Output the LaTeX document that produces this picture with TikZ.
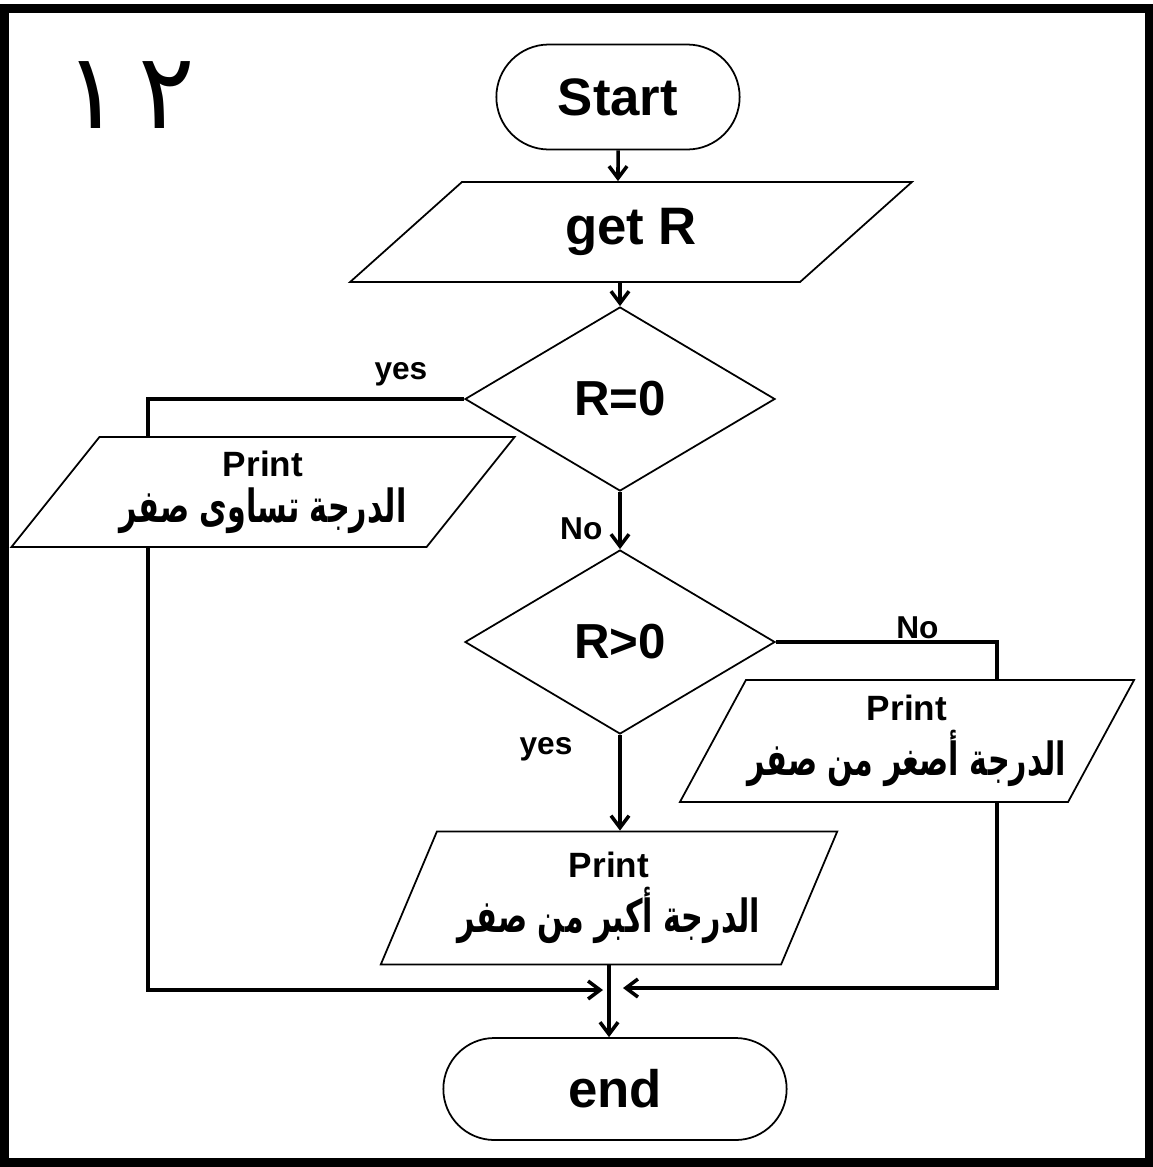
\documentclass[tikz,border=0pt]{standalone}
\usepackage{fontspec}
\setmainfont{Liberation Sans}
\newfontfamily\arabicfont[Script=Arabic, FakeStretch=0.66]{DejaVu Sans}
\newfontfamily\digitfont[Script=Arabic]{DejaVu Sans}
\TeXXeTstate=1
\usepackage{tikz}
\usetikzlibrary{calc,shapes,arrows.meta}

\newcommand{\artext}[1]{{\arabicfont\bfseries\fontsize{26}{28}\selectfont\beginR #1\endR}}

\begin{document}
\begin{tikzpicture}[x=0.2mm, y=-0.2mm,
    term/.style={rounded rectangle, draw, line width=1pt, minimum width=51mm, minimum height=21mm, font=\bfseries\fontsize{30}{36}\selectfont},
    io/.style={trapezium, trapezium stretches=true, draw, line width=1pt, align=center, inner xsep=1pt, inner ysep=1pt, font=\bfseries\fontsize{20}{22}\selectfont},
    decision/.style={diamond, draw, line width=1pt, aspect=1.7, minimum width=62mm, minimum height=36.8mm, font=\bfseries\fontsize{28}{32}\selectfont},
    line/.style={draw, line width=2pt},
    arrow/.style={line, -{Straight Barb[length=2.4mm,width=3.6mm]}},
    lbl/.style={font=\bfseries\fontsize{18}{20}\selectfont}]
    \useasboundingbox (0,0) rectangle (1153,1167);
    % Frame and number
    \draw [line width=1.8mm] (4,8) rectangle (1149,1162);
    \node [font=\digitfont\fontsize{60}{60}\selectfont] (num) at (130,95) {١\,٢};
    % Place nodes
    \node [term] (start) at (618,97) {Start};
    \node [io, trapezium left angle=48.7, trapezium right angle=131.3, minimum width=112.4mm, minimum height=20mm, font=\bfseries\fontsize{30}{36}\selectfont] (getr) at (631,232) {get R};
    \node [decision] (r0) at (620,399) {R=0};
    \node [io, trapezium left angle=47.7, trapezium right angle=132.3, minimum width=101mm, minimum height=22mm] (p1) at (263,492) {Print\\[4pt]\artext{الدرجة تساوى صفر}};
    \node [decision] (rg) at (620,642) {R>0};
    \node [io, trapezium left angle=55.1, trapezium right angle=124.9, minimum width=88.2mm, minimum height=24.4mm] (p2) at (907,741) {Print\\[4pt]\artext{الدرجة أصغر من صفر}};
    \node [io, trapezium left angle=62.2, trapezium right angle=117.8, minimum width=91.6mm, minimum height=26.6mm] (p3) at (609,898) {Print\\[4pt]\artext{الدرجة أكبر من صفر}};
    \node [term, minimum width=71mm, minimum height=20.4mm] (end) at (615,1089) {end};
    \coordinate (lcol) at (148,0);
    \coordinate (rcol) at (997,0);
    \coordinate (jl) at (603,990);
    \coordinate (jr) at (623,988);
    % Connectors
    \path [arrow] (start) -- (start |- getr.north);
    \path [arrow] (r0 |- getr.south) -- (r0.north);
    \path [line] (r0.west) -| node [lbl, above=1mm, pos=0.1] {yes} (lcol |- p1.north);
    \path [arrow] (r0) -- node [lbl, left=2mm, pos=0.65] {No} (rg);
    \path [line] (rg.east) -| node [lbl, above, inner sep=1pt, pos=0.32] {No} (rcol |- p2.north);
    \path [arrow] (rg) -- node [lbl, left=8mm, pos=0.15] {yes} (rg |- p3.north);
    \path [arrow] (lcol |- p1.south) |- (jl);
    \path [arrow] (rcol |- p2.south) |- (jr);
    \path [arrow] (p3.south) -- (p3.south |- end.north);
\end{tikzpicture}
\end{document}
